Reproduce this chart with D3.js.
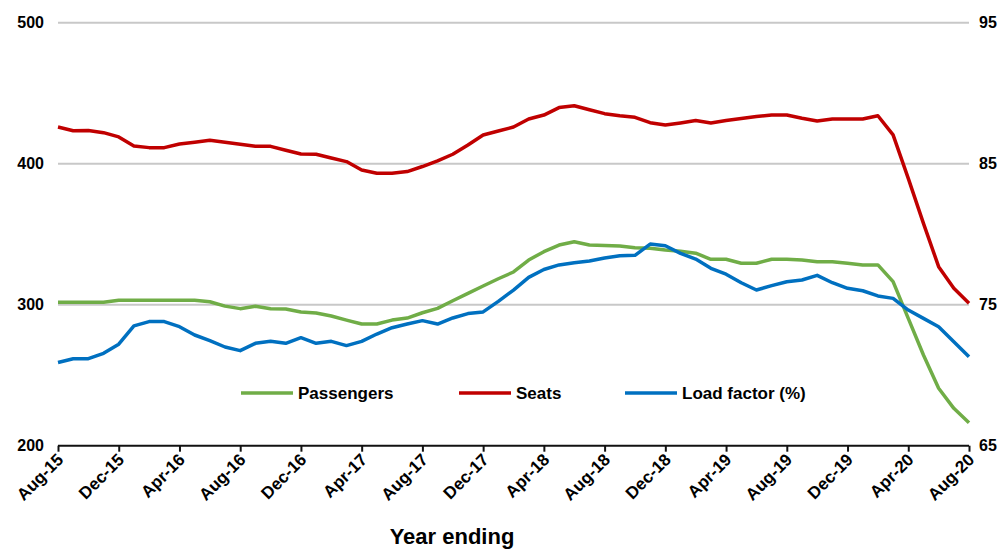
<!DOCTYPE html>
<html>
<head>
<meta charset="utf-8">
<script src="https://cdn.jsdelivr.net/npm/d3@7"></script>
<style>
  body { margin: 0; background: #fff; }
  svg text { font-family: "Liberation Sans", Arial, sans-serif; font-weight: bold; fill: #000; }
</style>
</head>
<body>
<svg id="chart" width="1000" height="550"></svg>
<script>
const months = ["Aug-15","Sep-15","Oct-15","Nov-15","Dec-15","Jan-16","Feb-16","Mar-16","Apr-16","May-16","Jun-16","Jul-16",
  "Aug-16","Sep-16","Oct-16","Nov-16","Dec-16","Jan-17","Feb-17","Mar-17","Apr-17","May-17","Jun-17","Jul-17",
  "Aug-17","Sep-17","Oct-17","Nov-17","Dec-17","Jan-18","Feb-18","Mar-18","Apr-18","May-18","Jun-18","Jul-18",
  "Aug-18","Sep-18","Oct-18","Nov-18","Dec-18","Jan-19","Feb-19","Mar-19","Apr-19","May-19","Jun-19","Jul-19",
  "Aug-19","Sep-19","Oct-19","Nov-19","Dec-19","Jan-20","Feb-20","Mar-20","Apr-20","May-20","Jun-20","Jul-20","Aug-20"];

const xTickLabels = ["Aug-15","Dec-15","Apr-16","Aug-16","Dec-16","Apr-17","Aug-17","Dec-17","Apr-18","Aug-18","Dec-18","Apr-19","Aug-19","Dec-19","Apr-20","Aug-20"];
const leftTicks = [200, 300, 400, 500];
const rightTicks = [65, 75, 85, 95];

const passengers = [301.7,301.7,301.7,301.7,303.1,303.1,303.1,303.1,303.1,303.1,302.1,299.0,
  297.2,298.9,297.2,297.0,294.8,294.1,292.0,289.1,286.3,286.3,289.1,290.5,
  294.3,297.4,302.8,308.0,313.3,318.4,323.2,331.7,337.6,342.3,344.7,342.3,
  341.9,341.6,340.4,340.0,338.8,337.9,336.5,332.2,332.2,329.4,329.4,332.2,
  332.2,331.7,330.5,330.5,329.4,328.2,328.2,316.4,290.3,264.3,240.7,226.5,216.3];

const seats = [426.0,423.4,423.6,422.0,419.0,412.5,411.4,411.4,414.0,415.2,416.6,415.2,
  413.8,412.3,412.3,409.5,406.9,406.7,404.0,401.5,395.5,393.2,393.2,394.4,
  398.0,402.0,406.7,413.3,420.4,423.2,426.0,431.7,434.5,439.8,441.1,438.3,
  435.5,434.0,432.9,429.1,427.4,428.9,430.6,428.9,430.6,432.0,433.4,434.5,
  434.5,432.2,430.3,431.7,431.7,431.7,434.0,420.4,389.6,357.7,327.0,311.6,301.0];

const loadFactor = [70.9,71.17,71.17,71.55,72.2,73.5,73.8,73.8,73.44,72.85,72.45,72.0,
  71.74,72.26,72.4,72.26,72.66,72.26,72.4,72.1,72.4,72.92,73.37,73.63,
  73.87,73.63,74.06,74.37,74.49,75.24,76.04,76.94,77.5,77.82,77.98,78.1,
  78.31,78.47,78.5,79.3,79.18,78.64,78.24,77.58,77.16,76.56,76.04,76.35,
  76.63,76.75,77.08,76.56,76.16,75.99,75.62,75.45,74.62,74.03,73.44,72.38,71.31];

const seriesNames = ["Passengers", "Seats", "Load factor (%)"];
const seriesColors = ["#70ad47", "#c00000", "#0070c0"];

const svg = d3.select("#chart");
const plotLeft = 58, plotRight = 969, plotTop = 22.7, plotBottom = 445.7;

const x = d3.scalePoint().domain(months).range([plotLeft, plotRight]);
const yL = d3.scaleLinear().domain([200, 500]).range([plotBottom, plotTop]);
const yR = d3.scaleLinear().domain([65, 95]).range([plotBottom, plotTop]);

// gridlines
svg.append("g").selectAll("line")
  .data(leftTicks.filter(d => d !== 200))
  .join("line")
  .attr("x1", plotLeft).attr("x2", plotRight)
  .attr("y1", d => yL(d)).attr("y2", d => yL(d))
  .attr("stroke", "#c8c8c8").attr("stroke-width", 2);

// left axis labels
const leftAxis = d3.axisLeft(yL).tickValues(leftTicks).tickSize(0).tickPadding(10);
const gl = svg.append("g").attr("transform", `translate(${plotLeft},0)`).call(leftAxis);
gl.select(".domain").remove();
gl.selectAll("text").style("font-size", "16px").attr("font-family", null).attr("x", -14);

// right axis labels
const rightAxis = d3.axisRight(yR).tickValues(rightTicks).tickSize(0).tickPadding(10);
const gr = svg.append("g").attr("transform", `translate(${plotRight},0)`).call(rightAxis);
gr.select(".domain").remove();
gr.selectAll("text").style("font-size", "16px").attr("font-family", null).attr("x", 10);

// bottom axis
const bottomAxis = d3.axisBottom(x).tickValues(xTickLabels).tickSize(6).tickSizeOuter(0).tickPadding(4);
const gb = svg.append("g").attr("transform", `translate(0,${plotBottom})`).call(bottomAxis);
gb.select(".domain").attr("stroke", "#111").attr("stroke-width", 2).attr("d", `M${plotLeft},0H${plotRight}`);
gb.selectAll(".tick line").attr("stroke", "#111").attr("stroke-width", 2);
gb.selectAll(".tick text")
  .style("font-size", "17px").attr("font-family", null)
  .attr("text-anchor", "end")
  .attr("dy", null).attr("y", 0)
  .attr("transform", "translate(6,15) rotate(-45)");

// lines
const lineL = d3.line().x((d, i) => x(months[i])).y(d => yL(d));
const lineR = d3.line().x((d, i) => x(months[i])).y(d => yR(d));

svg.append("path").datum(passengers).attr("d", lineL)
  .attr("fill", "none").attr("stroke", seriesColors[0]).attr("stroke-width", 3.5).attr("stroke-linejoin", "round");
svg.append("path").datum(seats).attr("d", lineL)
  .attr("fill", "none").attr("stroke", seriesColors[1]).attr("stroke-width", 3.5).attr("stroke-linejoin", "round");
svg.append("path").datum(loadFactor).attr("d", lineR)
  .attr("fill", "none").attr("stroke", seriesColors[2]).attr("stroke-width", 3.5).attr("stroke-linejoin", "round");

// legend
const legendX = [241, 459, 625];
const lg = svg.append("g");
seriesNames.forEach((name, i) => {
  lg.append("line").attr("x1", legendX[i]).attr("x2", legendX[i] + 52)
    .attr("y1", 393).attr("y2", 393)
    .attr("stroke", seriesColors[i]).attr("stroke-width", 3.5);
  lg.append("text").attr("x", legendX[i] + 57).attr("y", 399)
    .style("font-size", "17px").text(name);
});

// axis title
svg.append("text").attr("x", 452).attr("y", 544).attr("text-anchor", "middle")
  .style("font-size", "22px").text("Year ending");
</script>
</body>
</html>
